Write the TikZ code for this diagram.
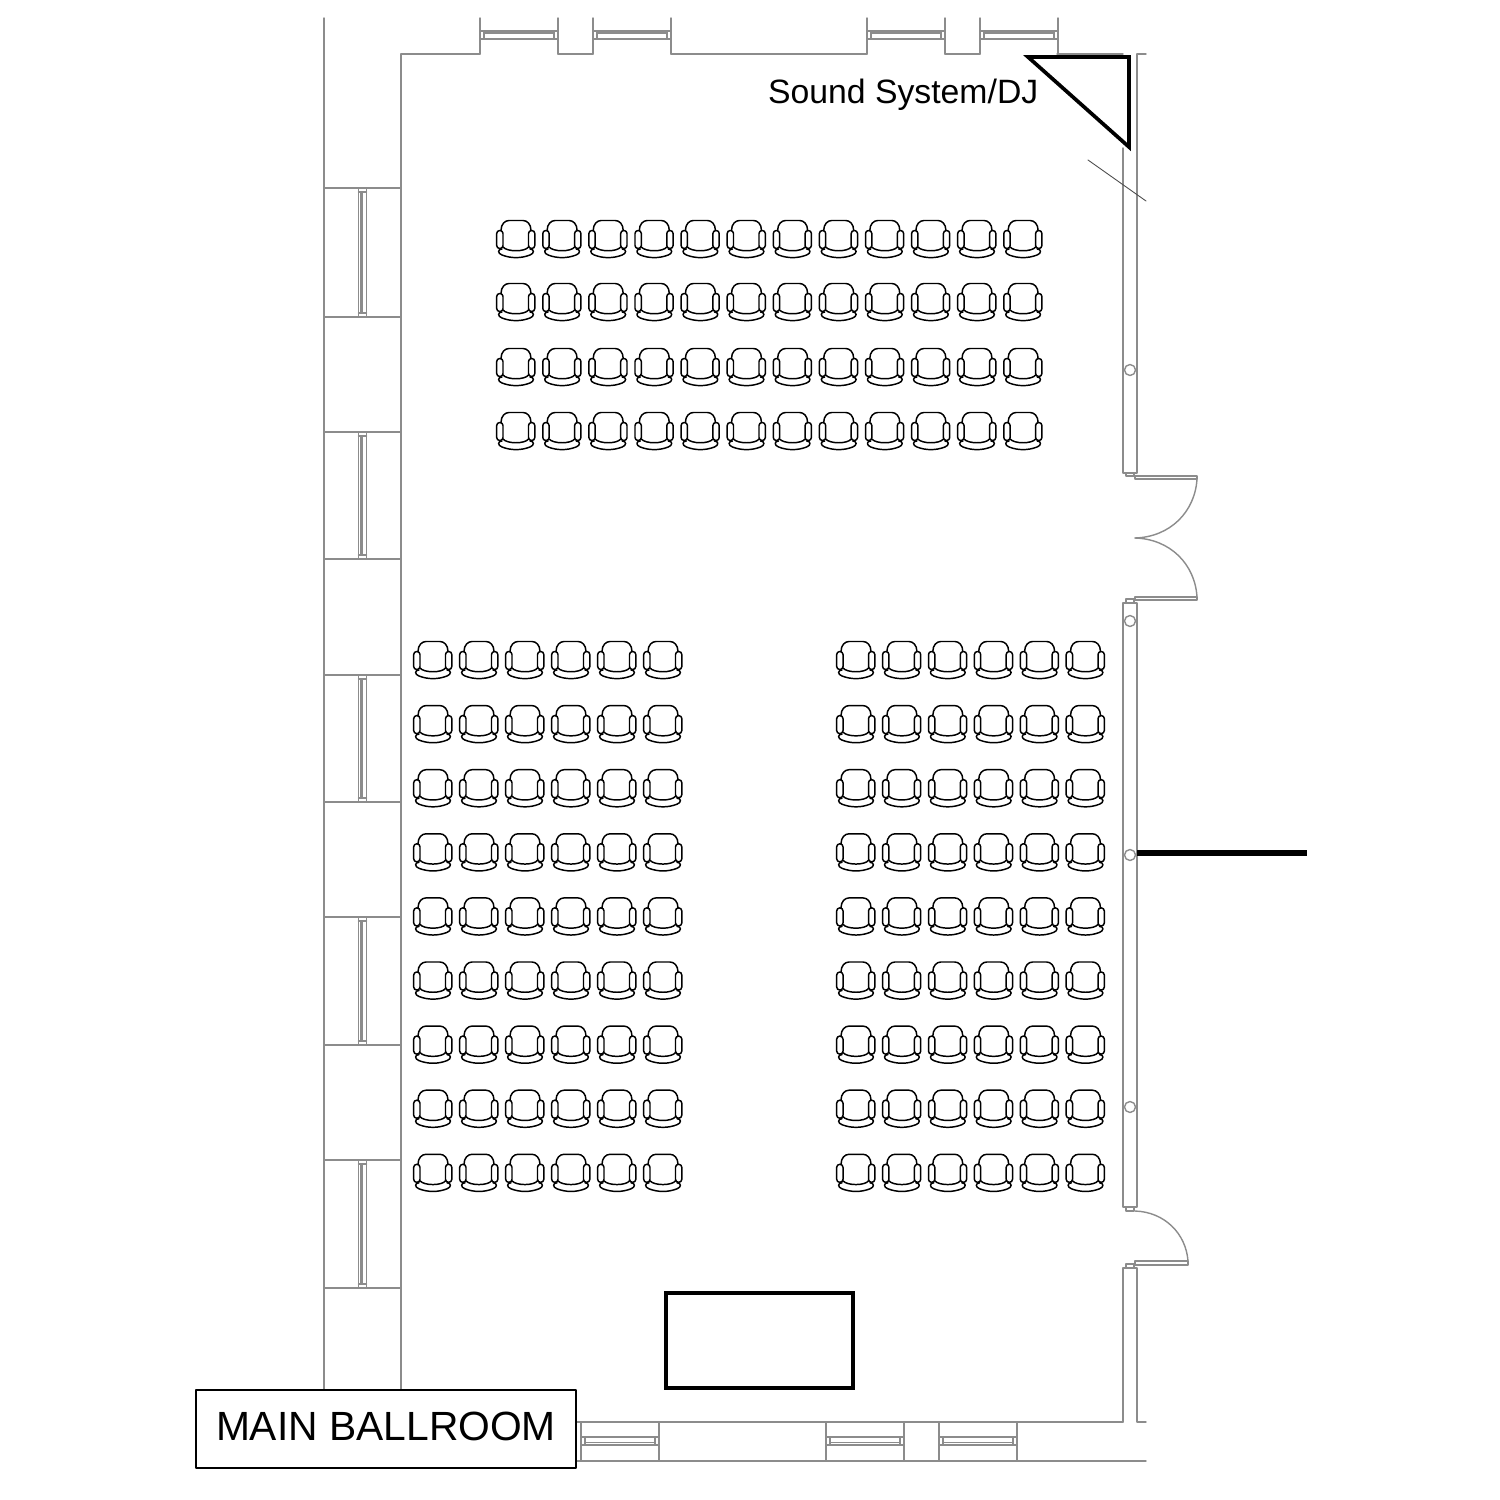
\documentclass[tikz,border=0pt]{standalone}
\usepackage{fontspec}
\setmainfont{Liberation Sans}
\usepackage{tikz}
\tikzset{chair/.pic={
    \draw (-15,-8.5) .. controls (-15,-15) and (-11,-18.5) .. (-7,-18.5) -- (7,-18.5) .. controls (11,-18.5) and (15,-15) .. (15,-8.5);
    \draw[rounded corners=0.85pt] (-19.3,-8.5) rectangle (-13,9.5);
    \draw[rounded corners=0.85pt] (12.5,-8.5) rectangle (18.8,9.5);
    \draw (-13,8) .. controls (-9,13) and (9,13) .. (12.5,8);
    \draw (-14,10) .. controls (-18.5,10) and (-18.5,14.5) .. (-14,16) .. controls (-5,19.5) and (5,19.5) .. (14,16) .. controls (18.5,14.5) and (18.5,10) .. (14,10);
}}

\begin{document}
\begin{tikzpicture}[line cap=round,line join=round,x=0.01cm,y=-0.01cm,
    wall/.style={draw=black!45, line width=0.4pt},
    seat/.style={draw=black, line width=0.42pt},
    heavy/.style={draw=black, line width=1.05pt, line join=miter, miter limit=10}]
    \useasboundingbox (0,0) rectangle (1500,1500);

    % outer and inner walls, left side
    \draw[wall] (324,18) -- (324,1390);
    \draw[wall] (401,1422) -- (401,54) -- (480,54);
    \foreach \y in {188,317,432,559,675,802,917,1045,1160,1288}
        \draw[wall] (324,\y) -- (401,\y);
    \foreach \ya/\yb in {188/317,432/559,675/802,917/1045,1160/1288} {
        \draw[wall] (358.5,\ya) rectangle (366.5,\yb);
        \draw[wall] (358.5,\ya+4) -- (366.5,\ya+4);
        \draw[wall] (358.5,\yb-4) -- (366.5,\yb-4);
        \draw[wall] (361,\ya+4) -- (361,\yb-4);
        \draw[wall] (362.5,\ya+4) -- (362.5,\yb-4);
    }

    % top wall
    \foreach \xa/\xb in {558/593,945/980}
        \draw[wall] (\xa,54) -- (\xb,54);
    \draw[wall] (671,54) -- (867,54);
    \draw[wall] (1057,54) -- (1123,54);
    \foreach \xa/\xb in {480/558,593/671,867/945,980/1058} {
        \draw[wall] (\xa,18) -- (\xa,54);
        \draw[wall] (\xb,18) -- (\xb,54);
        \draw[wall] (\xa,31) rectangle (\xb,39);
        \draw[wall] (\xa+4,31) -- (\xa+4,39);
        \draw[wall] (\xb-4,31) -- (\xb-4,39);
        \draw[wall] (\xa+4,33) -- (\xb-4,33);
    }

    % right wall with doors
    \draw[wall] (1137,54) -- (1146,54);
    \draw[wall] (1123,148) -- (1123,473) -- (1137,473) -- (1137,54);
    \draw[wall] (1126,473) -- (1126,476) -- (1134,476) -- (1134,473);
    \draw[wall] (1135,476) rectangle (1197,479);
    \draw[wall] (1197,479) .. controls (1195,512) and (1170,537) .. (1135,538);
    \draw[wall] (1197,597) .. controls (1195,564) and (1170,539) .. (1135,538);
    \draw[wall] (1135,597) rectangle (1197,600);
    \draw[wall] (1126,603) -- (1126,599) -- (1134,599) -- (1134,603);
    \draw[wall] (1123,603) rectangle (1137,1207);
    \draw[wall] (1126,1207) -- (1126,1211) -- (1134,1211) -- (1134,1207);
    \draw[wall] (1135,1211) .. controls (1165,1212) and (1186,1234) .. (1188,1261);
    \draw[wall] (1135,1261) rectangle (1188,1265);
    \draw[wall] (1126,1268) -- (1126,1264) -- (1134,1264) -- (1134,1268);
    \draw[wall] (1123,1422) -- (1123,1268) -- (1137,1268) -- (1137,1422) -- (1146,1422);
    \foreach \y in {370,621,855,1107}
        \draw[wall] (1130,\y) circle (5.5);
    \draw[draw=black!70, line width=0.25pt] (1088,160) -- (1146,201);

    % bottom wall
    \draw[wall] (401,1422) -- (1123,1422);
    \draw[wall] (576,1461) -- (1146,1461);
    \foreach \xa/\xb in {581/659,826/904,939/1017} {
        \draw[wall] (\xa,1422) -- (\xa,1461);
        \draw[wall] (\xb,1422) -- (\xb,1461);
        \draw[wall] (\xa,1437) rectangle (\xb,1445);
        \draw[wall] (\xa+4,1437) -- (\xa+4,1445);
        \draw[wall] (\xb-4,1437) -- (\xb-4,1445);
        \draw[wall] (\xa+4,1442.5) -- (\xb-4,1442.5);
    }

    % chairs
    \foreach \y in {239,302,367,431}
        \foreach \x in {0,...,11}
            \pic[seat] at (516+46.1*\x,\y) {chair};
    \foreach \y in {0,...,8}
        \foreach \x in {0,...,5} {
            \pic[seat] at (433+46*\x,660+64.1*\y) {chair};
            \pic[seat] at (856+45.9*\x,660+64.1*\y) {chair};
        }

    % sound system, stage, label
    \draw[heavy] (1028,57) -- (1129,57) -- (1129,147) -- cycle;
    \node[anchor=east, inner sep=0pt, font=\fontsize{9.6}{11}\selectfont] (dj) at (1039,94.5) {Sound System/DJ};
    \draw[heavy] (666,1293) rectangle (853,1388);
    \draw[draw=black, line width=1.6pt, line cap=butt] (1137,853) -- (1307,853);
    \node[draw=black, fill=white, line width=0.5pt, minimum width=380*0.01cm, minimum height=78*0.01cm, inner sep=0pt, text height=6.6pt, text depth=0pt, font=\fontsize{11.6}{13}\selectfont] (ballroom) at (386,1429) {MAIN BALLROOM};
\end{tikzpicture}
\end{document}
